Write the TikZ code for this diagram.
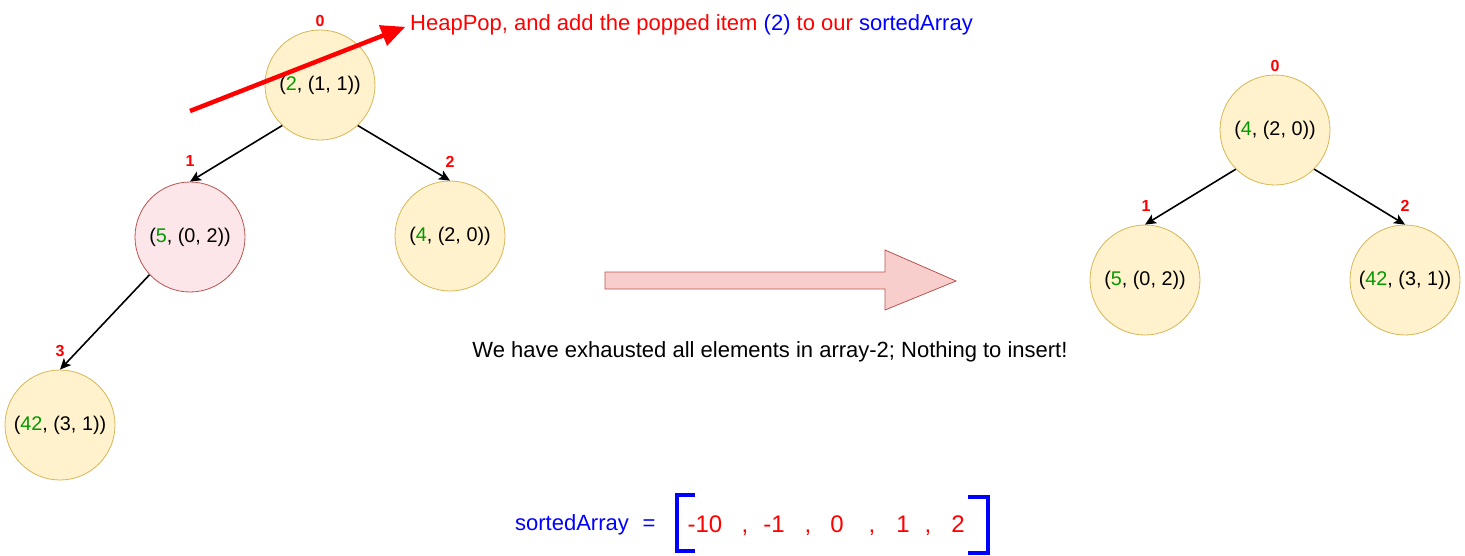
\documentclass[tikz,border=0pt]{standalone}
\usepackage{fontspec}
\setmainfont{Liberation Sans}
\usetikzlibrary{arrows.meta}
\definecolor{yfill}{HTML}{FFF2CC}
\definecolor{ystroke}{HTML}{D6B656}
\definecolor{pfill}{HTML}{FDE6EA}
\definecolor{pstroke}{HTML}{B85450}
\definecolor{afill}{HTML}{F8CECC}
\definecolor{gnum}{HTML}{009900}
\definecolor{rtext}{HTML}{FF0000}
\definecolor{btext}{HTML}{0000FF}
\tikzset{
  heapnode/.style={circle, draw=ystroke, fill=yfill, line width=0.8pt, minimum size=110pt, inner sep=0pt,
    font=\fontsize{19.8}{22}\selectfont},
  pinknode/.style={heapnode, draw=pstroke, fill=pfill},
  idxlabel/.style={text=rtext, font=\bfseries\fontsize{16}{18}\selectfont, inner sep=0pt},
  edgearrow/.style={line width=1.6pt, -{Stealth[length=11pt,width=10pt,inset=2.5pt]}},
  bigtext/.style={font=\fontsize{22}{24}\selectfont, inner sep=0pt},
  numtext/.style={text=rtext, font=\fontsize{24}{26}\selectfont, inner sep=0pt, anchor=base},
  bracket/.style={draw=btext, line width=4pt},
}
\newcommand{\gn}[1]{\textcolor{gnum}{#1}}
\begin{document}
\begin{tikzpicture}[x=1pt,y=-1pt]
\useasboundingbox (0,0) rectangle (1465,555);
% left heap
\node[heapnode] (l0) at (320,85) {(\gn{2}, (1, 1))};
\node[pinknode] (l1) at (190,237) {(\gn{5}, (0, 2))};
\node[heapnode] (l2) at (450,236) {(\gn{4}, (2, 0))};
\node[heapnode] (l3) at (60,425) {(\gn{42}, (3, 1))};
\node[idxlabel] (l0i) at (320,21) {0};
\node[idxlabel] (l1i) at (190,161) {1};
\node[idxlabel] (l2i) at (450,162) {2};
\node[idxlabel] (l3i) at (60,351) {3};
\draw[edgearrow] (l0.-133) -- (l1.north);
\draw[edgearrow] (l0.-47) -- (l2.north);
\draw[edgearrow] (l1.-137) -- (l3.north);
% right heap
\node[heapnode] (r0) at (1275,130) {(\gn{4}, (2, 0))};
\node[heapnode] (r1) at (1145,280) {(\gn{5}, (0, 2))};
\node[heapnode] (r2) at (1405,280) {(\gn{42}, (3, 1))};
\node[idxlabel] (r0i) at (1275,66) {0};
\node[idxlabel] (r1i) at (1146,206) {1};
\node[idxlabel] (r2i) at (1405,206) {2};
\draw[edgearrow] (r0.-135) -- (r1.north);
\draw[edgearrow] (r0.-45) -- (r2.north);
% heap pop annotation
\node[bigtext, anchor=west, text=rtext] (poptext) at (410,25)
  {HeapPop, and add the popped item \textcolor{btext}{(2)} to our \textcolor{btext}{sortedArray}};
\coordinate (popstart) at (190,111);
\draw[draw=rtext, line width=4.5pt, -{Triangle[length=24pt,width=21pt]}, shorten >=5pt] (popstart) -- (poptext.west);
% big block arrow
\draw[draw=pstroke, fill=afill, line width=0.8pt]
  (605,272) -- (885,272) -- (885,250) -- (956,281) -- (885,310) -- (885,289) -- (605,289) -- cycle;
\node[bigtext] (note) at (770,352) {We have exhausted all elements in array-2; Nothing to insert!};
% sorted array
\node[bigtext, text=btext, anchor=base] (sa) at (572,530) {sortedArray};
\node[bigtext, text=btext, anchor=base] (eq) at (649,530) {=};
\draw[bracket] (695,495) -- (677,495) -- (677,551) -- (695,551);
\draw[bracket] (968,497) -- (988,497) -- (988,553) -- (968,553);
\node[numtext] (v1) at (705,532) {-10};
\node[numtext] (c1) at (745,532) {,};
\node[numtext] (v2) at (774,532) {-1};
\node[numtext] (c2) at (808,532) {,};
\node[numtext] (v3) at (837,532) {0};
\node[numtext] (c3) at (872,532) {,};
\node[numtext] (v4) at (903,532) {1};
\node[numtext] (c4) at (928,532) {,};
\node[numtext] (v5) at (958,532) {2};
\end{tikzpicture}
\end{document}
